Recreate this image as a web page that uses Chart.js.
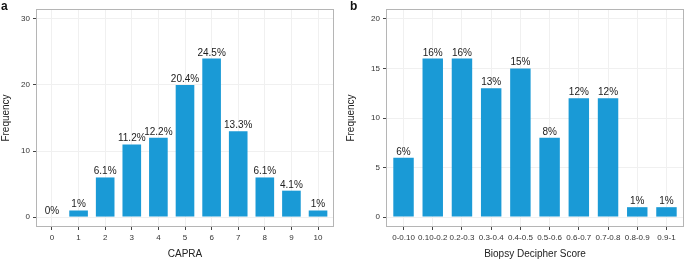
<!DOCTYPE html>
<html>
<head>
<meta charset="utf-8">
<script src="https://cdn.jsdelivr.net/npm/chart.js@4"></script>
<style>
  html, body { margin: 0; padding: 0; background: #fff; }
  body { width: 685px; height: 261px; position: relative; overflow: hidden; font-family: "Liberation Sans", Arial, sans-serif; }
  .panel { position: absolute; top: 0; }
  .tag { position: absolute; font: bold 12px "Liberation Sans", Arial, sans-serif; color: #111; }
</style>
</head>
<body>
<div class="panel" style="left:0;width:340px;height:261px"><canvas id="ca" width="340" height="261"></canvas></div>
<div class="panel" style="left:345px;width:340px;height:261px"><canvas id="cb" width="340" height="261"></canvas></div>
<div class="tag" style="left:1px;top:-1px">a</div>
<div class="tag" style="left:350px;top:-1px">b</div>
<script>
// ---- data ----
const capraCategories = ["0","1","2","3","4","5","6","7","8","9","10"];
const capraFrequency  = [0, 1, 6, 11, 12, 20, 24, 13, 6, 4, 1];
const capraPercent    = ["0%","1%","6.1%","11.2%","12.2%","20.4%","24.5%","13.3%","6.1%","4.1%","1%"];
const capraYTicks     = [0, 10, 20, 30];

const deciCategories = ["0-0.10","0.10-0.2","0.2-0.3","0.3-0.4","0.4-0.5","0.5-0.6","0.6-0.7","0.7-0.8","0.8-0.9","0.9-1"];
const deciFrequency  = [6, 16, 16, 13, 15, 8, 12, 12, 1, 1];
const deciPercent    = ["6%","16%","16%","13%","15%","8%","12%","12%","1%","1%"];
const deciYTicks     = [0, 5, 10, 15, 20];

const BAR = '#1a9ad6';
const FONT = '"Liberation Sans", Arial, sans-serif';

const labelPlugin = {
  id: 'barLabels',
  afterDatasetsDraw(chart, args, opts) {
    const ctx = chart.ctx;
    const meta = chart.getDatasetMeta(0);
    ctx.save();
    ctx.font = '10px ' + FONT;
    ctx.fillStyle = '#222';
    ctx.textAlign = 'center';
    ctx.textBaseline = 'alphabetic';
    meta.data.forEach((el, i) => {
      ctx.fillText(opts.labels[i], el.x, el.y - 3);
    });
    ctx.restore();
  }
};
const borderPlugin = {
  id: 'panelBorder',
  afterDraw(chart) {
    const a = chart.chartArea, ctx = chart.ctx;
    ctx.save();
    ctx.strokeStyle = '#b5b5b5';
    ctx.lineWidth = 1;
    ctx.strokeRect(Math.round(a.left) + 0.5, Math.round(a.top) + 0.5, Math.round(a.right - a.left) - 1, Math.round(a.bottom - a.top) - 1);
    ctx.restore();
  }
};

function makeChart(id, cats, vals, pcts, yTicks, yMin, yMax, xTitle, yWidth, padRight) {
  const n = cats.length;
  return new Chart(document.getElementById(id), {
    type: 'bar',
    data: {
      datasets: [{
        data: vals.map((v, i) => ({x: i, y: v})),
        backgroundColor: BAR,
        borderWidth: 0,
        barPercentage: 0.7,
        categoryPercentage: 1.0
      }]
    },
    options: {
      responsive: false,
      animation: false,
      devicePixelRatio: 1,
      layout: { padding: { top: 9, right: padRight, left: 0, bottom: 0 } },
      plugins: {
        legend: { display: false },
        tooltip: { enabled: false },
        barLabels: { labels: pcts }
      },
      scales: {
        x: {
          type: 'linear',
          offset: false,
          min: -0.6,
          max: n - 1 + 0.6,
          afterBuildTicks: s => { s.ticks = cats.map((c, i) => ({value: i})); },
          afterFit: s => { s.height = 34; },
          grid: { offset: false, color: '#f0f0f0', tickColor: '#444', tickLength: 3, drawTicks: true },
          border: { display: false },
          ticks: {
            autoSkip: false, maxRotation: 0, padding: 3,
            color: '#333', font: { size: 8, family: FONT },
            callback: v => cats[v]
          },
          title: { display: true, text: xTitle, color: '#222', font: { size: 10, family: FONT }, padding: { top: 0, bottom: 1 } }
        },
        y: {
          min: yMin, max: yMax,
          afterBuildTicks: s => { s.ticks = yTicks.map(v => ({value: v})); },
          afterFit: s => { s.width = yWidth; },
          grid: { color: '#f0f0f0', tickColor: '#444', tickLength: 3, drawTicks: true },
          border: { display: false },
          ticks: { padding: 3, color: '#333', font: { size: 8, family: FONT } },
          title: { display: true, text: 'Frequency', color: '#222', font: { size: 10, family: FONT }, padding: { top: 0, bottom: 0 } }
        }
      }
    },
    plugins: [labelPlugin, borderPlugin]
  });
}

makeChart('ca', capraCategories, capraFrequency, capraPercent, capraYTicks, -1.5, 31.5, 'CAPRA', 36, 6);
makeChart('cb', deciCategories, deciFrequency, deciPercent, deciYTicks, -1, 21, 'Biopsy Decipher Score', 41, 1);
</script>
</body>
</html>
